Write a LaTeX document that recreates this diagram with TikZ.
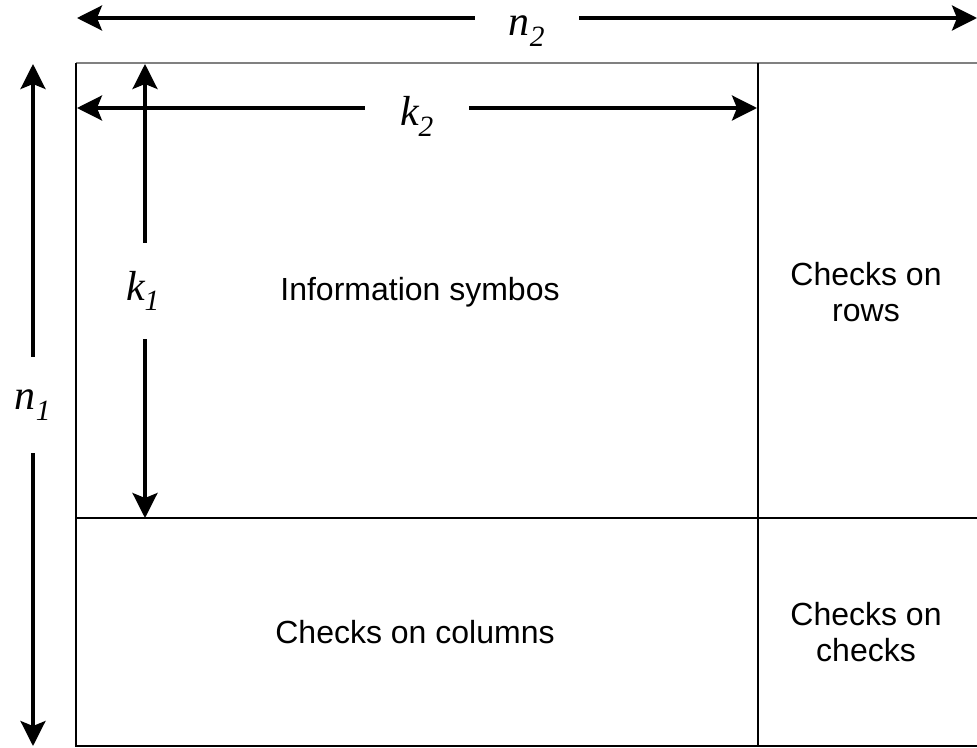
\documentclass[tikz,border=0pt]{standalone}
\usepackage{fontspec}
\setmainfont{Liberation Sans}
\newfontfamily\dimfont{Liberation Serif}
\usetikzlibrary{arrows.meta,positioning}

\begin{document}
\begin{tikzpicture}[x=1pt,y=-1pt]
            \tikzstyle{dim arrow}=[line width=3.2pt,{Stealth[length=25pt,width=25pt,inset=5pt]}-{Stealth[length=25pt,width=25pt,inset=5pt]}]
            \tikzstyle{dim label}=[fill=white,inner sep=0pt,font=\dimfont\itshape\fontsize{42}{46}\selectfont]
            \tikzstyle{horiz label}=[dim label,minimum width=104pt,minimum height=44pt]
            \tikzstyle{vert label}=[dim label,minimum width=40pt,minimum height=96pt]
            \tikzstyle{block line}=[line width=1.2pt]
            \tikzstyle{block text}=[align=center,font=\fontsize{32}{36}\selectfont]
            \useasboundingbox (0,0) rectangle (977,747);
            % corners of the code array
            \coordinate (tl) at (76,63);
            \coordinate (tr) at (977,63);
            \coordinate (bl) at (76,746);
            \coordinate (br) at (977,746);
            \coordinate (splitT) at (758,63);
            \coordinate (splitB) at (758,746);
            \coordinate (midL) at (76,518);
            \coordinate (midR) at (977,518);
            \draw[block line,black!50] (tl) -- (tr);
            \draw[block line] (tl) -- (bl) -- (br);
            \draw[block line] (splitT) -- (splitB);
            \draw[block line] (midL) -- (midR);
            % dimension arrows
            \coordinate (n2w) at (77,18);
            \coordinate (n2e) at (977,18);
            \coordinate (k2w) at (77,108);
            \coordinate (k2e) at (757,108);
            \coordinate (k1n) at (145,64);
            \coordinate (k1s) at (145,518);
            \coordinate (n1n) at (33,64);
            \coordinate (n1s) at (33,746);
            \draw[dim arrow] (n2w) -- node[horiz label,yshift=-13pt](n2){n\textsubscript{2}} (n2e);
            \draw[dim arrow] (k2w) -- node[horiz label,yshift=-8pt](k2){k\textsubscript{2}} (k2e);
            \draw[dim arrow] (k1n) -- node[vert label,xshift=-2pt](k1){k\textsubscript{1}} (k1s);
            \draw[dim arrow] (n1n) -- node[vert label](n1){n\textsubscript{1}} (n1s);
            % block contents
            \node[block text](info) at (420,292){Information symbos};
            \node[block text](rowchk) at (866,292){Checks on\\rows};
            \node[block text](colchk) at (415,632){Checks on columns};
            \node[block text](chkchk) at (866,632){Checks on\\checks};
\end{tikzpicture}
\end{document}
